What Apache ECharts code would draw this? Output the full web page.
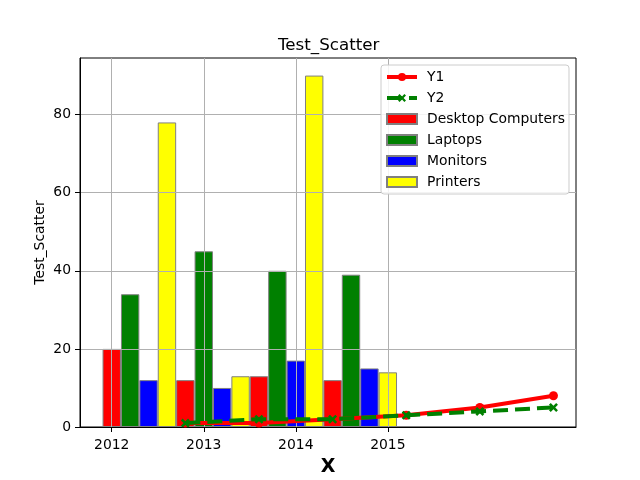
<!DOCTYPE html>
<html>
<head>
<meta charset="utf-8">
<script src="https://cdn.jsdelivr.net/npm/echarts@6/dist/echarts.min.js"></script>
<style>
  html, body { margin: 0; padding: 0; background: #fff; }
  #chart { width: 640px; height: 480px; }
</style>
</head>
<body>
<div id="chart"></div>
<script>
// data
const years = [2012, 2013, 2014, 2015];
const groupX = [2012, 2012.8, 2013.6, 2014.4];
const barStep = 0.2;
const barNames = ["Desktop Computers", "Laptops", "Monitors", "Printers"];
const barColors = ["#ff0000", "#008000", "#0000ff", "#ffff00"];
const desktop = [20, 12, 13, 12];
const laptops = [34, 45, 40, 39];
const monitors = [12, 10, 17, 15];
const printers = [78, 13, 90, 14];
const lineX = [2012.8, 2013.6, 2014.4, 2015.2, 2016.0, 2016.8];
const y1 = [1, 1, 2, 3, 5, 8];
const y2 = [1, 2, 2, 3, 4, 5];
const yTicks = [0, 20, 40, 60, 80];

const xMin = 2011.655, xMax = 2017.045;
const plotW = 496;
const barW = barStep * plotW / (xMax - xMin);
const font = "DejaVu Sans";

const chart = echarts.init(document.getElementById("chart"));

const barValues = [desktop, laptops, monitors, printers];
const barSeries = barValues.map(function (vals, k) {
  return {
    name: barNames[k],
    type: "bar",
    z: 2,
    barWidth: barW,
    barGap: "-100%",
    itemStyle: { color: barColors[k], borderColor: "#808080", borderWidth: 1 },
    data: vals.map(function (v, i) { return [groupX[i] + k * barStep, v]; }),
  };
});

const xSymbol = "path://M0,2 L2,0 L5,3 L8,0 L10,2 L7,5 L10,8 L8,10 L5,7 L2,10 L0,8 L3,5 Z";

const option = {
  animation: false,
  textStyle: { fontFamily: font },
  title: {
    text: "Test_Scatter",
    left: 278,
    top: 37,
    padding: 0,
    textStyle: { fontFamily: font, fontSize: 16.7, fontWeight: "normal", color: "#000" },
  },
  grid: {
    left: 80, right: 64, top: 58, bottom: 53,
    outerBoundsMode: "none",
    containLabel: false,
    show: true, borderColor: "#000", borderWidth: 1, backgroundColor: "transparent",
  },
  legend: {
    orient: "vertical",
    left: 381,
    top: 65,
    z: 10,
    padding: [5, 4, 5, 4],
    itemWidth: 30,
    itemHeight: 10,
    itemGap: 7,
    backgroundColor: "rgba(255,255,255,0.85)",
    borderColor: "#cccccc",
    borderWidth: 1,
    borderRadius: 3,
    textStyle: { fontFamily: font, fontSize: 13.9, color: "#000", lineHeight: 14, padding: [0, 0, 0, 5] },
    data: [
      { name: "Y1", lineStyle: { width: 4 } },
      { name: "Y2", lineStyle: { width: 4 } },
    ].concat(barNames.map(function (n) { return { name: n, icon: "rect" }; })),
  },
  xAxis: {
    type: "value",
    min: xMin,
    max: xMax,
    z: 3,
    name: "X",
    nameLocation: "middle",
    nameGap: 31,
    nameMoveOverlap: false,
    nameTextStyle: { fontFamily: font, fontSize: 19, fontWeight: "bold", color: "#000" },
    axisLine: { show: true, lineStyle: { color: "#000", width: 1 } },
    axisTick: { show: true, length: 5, customValues: years, lineStyle: { color: "#000" } },
    axisLabel: { customValues: years, margin: 11, fontSize: 13.9, color: "#000", fontFamily: font,
      formatter: function (v) { return String(Math.round(v)); } },
    splitLine: { show: true, lineStyle: { color: "#b0b0b0", width: 1 } },
  },
  yAxis: {
    type: "value",
    min: 0,
    max: 94.5,
    z: 3,
    name: "Test_Scatter",
    nameLocation: "middle",
    nameGap: 33,
    nameMoveOverlap: false,
    nameTextStyle: { fontFamily: font, fontSize: 13.9, color: "#000" },
    axisLine: { show: true, lineStyle: { color: "#000", width: 1 } },
    axisTick: { show: true, length: 5, customValues: yTicks, lineStyle: { color: "#000" } },
    axisLabel: { customValues: yTicks, margin: 9, fontSize: 13.9, color: "#000", fontFamily: font },
    splitLine: { show: true, lineStyle: { color: "#b0b0b0", width: 1 } },
  },
  series: [
    {
      name: "Y1",
      type: "line",
      z: 5,
      symbol: "circle",
      symbolSize: 9,
      color: "#ff0000",
      lineStyle: { color: "#ff0000", width: 4 },
      itemStyle: { color: "#ff0000" },
      data: lineX.map(function (x, i) { return [x, y1[i]]; }),
    },
    {
      name: "Y2",
      type: "line",
      z: 6,
      symbol: xSymbol,
      symbolSize: 9,
      color: "#008000",
      lineStyle: { color: "#008000", width: 4, type: [15, 7] },
      itemStyle: { color: "#008000" },
      data: lineX.map(function (x, i) { return [x, y2[i]]; }),
    },
  ].concat(barSeries),
};

chart.setOption(option);
</script>
</body>
</html>
